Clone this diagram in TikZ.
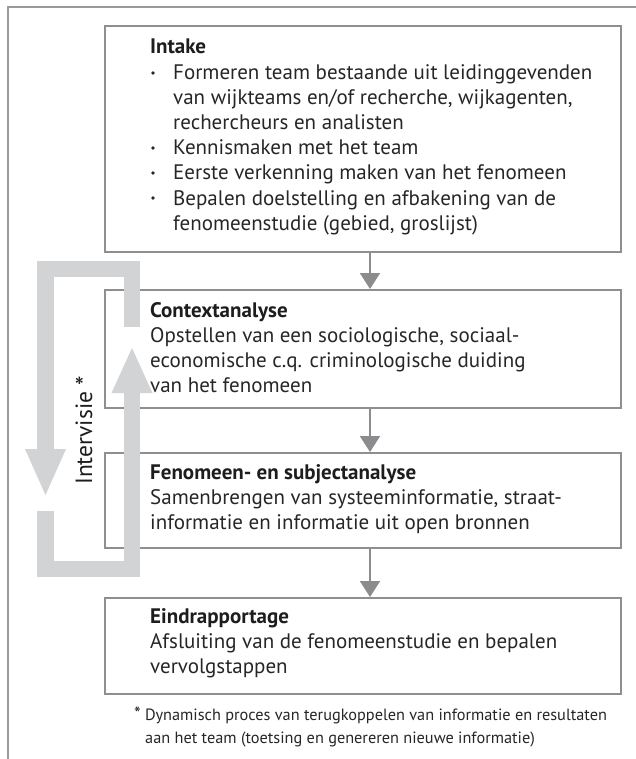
\documentclass[tikz,border=0pt]{standalone}
\usepackage{fontspec}
\setmainfont{PT Sans}
\usetikzlibrary{arrows.meta,calc}
\definecolor{boxgray}{HTML}{8F8F92}
\definecolor{framegray}{HTML}{9A9A9C}
\definecolor{arrgray}{HTML}{8C8C8E}
\definecolor{bandgray}{HTML}{D2D3D5}
\definecolor{txt}{HTML}{262626}
\definecolor{ttl}{HTML}{1E1C1D}
\tikzset{
  box/.style={draw=boxgray, line width=1.6pt, rectangle, inner sep=0pt, minimum width=516pt, anchor=north west},
  conn/.style={draw=arrgray, line width=2pt, -{Triangle[width=20pt,length=16pt]}},
  band/.style={draw=bandgray, line width=16.5pt, line cap=butt, line join=miter},
  bandtip/.style={fill=bandgray},
  ln/.style={anchor=base west, inner sep=0pt, text=txt, font=\fontsize{21}{25}\selectfont},
  hd/.style={anchor=base west, inner sep=0pt, text=ttl, font=\fontsize{21}{25}\selectfont\bfseries},
  fn/.style={anchor=base west, inner sep=0pt, text=txt, font=\fontsize{16.3}{23}\selectfont},
  dot/.style={fill=txt}
}
\begin{document}
\begin{tikzpicture}[x=1pt,y=-1pt]
\useasboundingbox (0,0) rectangle (636,759);
% outer frame (top and left)
\draw[framegray, line width=1.6pt] (8,759) -- (8,7) -- (636,7);
% boxes
\node[box, minimum height=226pt] (intake) at (104,25) {};
\node[box, minimum height=118pt] (context) at (104,289) {};
\node[box, minimum height=95pt] (fenomeen) at (104,452) {};
\node[box, minimum height=96pt] (eind) at (104,597) {};
% connectors
\coordinate (ax) at (370,0);
\draw[conn] (intake.south -| ax) -- (context.north -| ax);
\draw[conn] (context.south -| ax) -- (fenomeen.north -| ax);
\draw[conn] (fenomeen.south -| ax) -- (eind.north -| ax);
% intervisie loop
\draw[band] (132,327) -- (132,269) -- (45.5,269) -- (45.5,449);
\fill[bandtip] (25,449) -- (66,449) -- (45.5,495) -- cycle;
\draw[band] (45.5,511) -- (45.5,569) -- (132,569) -- (132,393);
\fill[bandtip] (111.5,393) -- (152.5,393) -- (132,348) -- cycle;
\node[rotate=90, anchor=base west, inner sep=0pt, text=ttl, font=\fontsize{23.5}{25}\selectfont] (intervisie) at (92,485) {Intervisie \raisebox{-3pt}{\fontsize{27}{25}\selectfont *}};
% intake text
\node[hd] (i0) at (150,54) {Intake};
\fill[dot] (153,73) circle (1.8);
\node[ln] (i1) at (173,80) {Formeren team bestaande uit leidinggevenden};
\node[ln] (i2) at (173,105) {van wijkteams en/of recherche, wijkagenten,};
\node[ln] (i3) at (173,130) {rechercheurs en analisten};
\fill[dot] (153,148) circle (1.8);
\node[ln] (i4) at (173,155) {Kennismaken met het team};
\fill[dot] (153,173) circle (1.8);
\node[ln] (i5) at (173,180) {Eerste verkenning maken van het fenomeen};
\fill[dot] (153,198) circle (1.8);
\node[ln] (i6) at (173,205) {Bepalen doelstelling en afbakening van de};
\node[ln] (i7) at (173,230) {fenomeenstudie (gebied, groslijst)};
% context text
\node[hd] (c0) at (150,317) {Contextanalyse};
\node[ln] (c1) at (150,342) {Opstellen van een sociologische, sociaal-};
\node[ln] (c2) at (150,367) {economische c.q. criminologische duiding};
\node[ln] (c3) at (150,392) {van het fenomeen};
% fenomeen text
\node[hd] (f0) at (150,479) {Fenomeen- en subjectanalyse};
\node[ln] (f1) at (150,504) {Samenbrengen van systeeminformatie, straat-};
\node[ln] (f2) at (150,529) {informatie en informatie uit open bronnen};
% eind text
\node[hd] (e0) at (150,623) {Eindrapportage};
\node[ln] (e1) at (150,648) {Afsluiting van de fenomeenstudie en bepalen};
\node[ln] (e2) at (150,673) {vervolgstappen};
% footnote
\node[fn] (n1) at (134,720) {{\fontsize{19}{23}\selectfont *} Dynamisch proces van terugkoppelen van informatie en resultaten};
\node[fn] (n2) at (145,743) {aan het team (toetsing en genereren nieuwe informatie)};
\end{tikzpicture}
\end{document}
